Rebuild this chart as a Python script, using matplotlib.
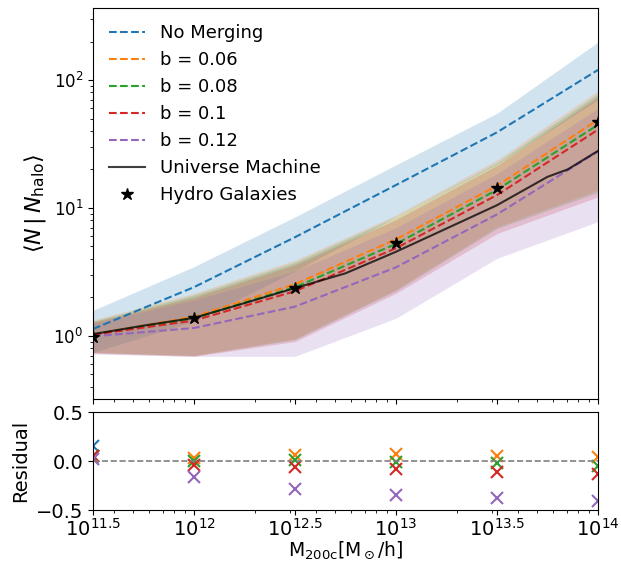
import numpy as np
import matplotlib
matplotlib.use("Agg")
import matplotlib.pyplot as plt

# ---------------- data ----------------
log_mass = [11.5, 12.0, 12.5, 13.0, 13.5, 14.0]

hydro = [0.97, 1.37, 2.38, 5.28, 14.2, 47.0]

no_merging = [1.13, 2.4, 5.9, 15.1, 39.0, 120.0]
no_merging_lo = [0.74, 1.3, 3.2, 8.5, 22.0, 70.0]
no_merging_hi = [1.58, 3.47, 8.5, 21.7, 55.0, 198.0]

b_labels = ["b = 0.06", "b = 0.08", "b = 0.1", "b = 0.12"]
b006 = [1.02, 1.41, 2.53, 5.68, 14.9, 48.9]
b008 = [1.02, 1.37, 2.40, 5.23, 13.85, 44.7]
b010 = [1.02, 1.315, 2.23, 4.84, 12.6, 40.9]
b012 = [0.99, 1.15, 1.69, 3.43, 8.9, 27.7]

b006_hi = [1.33, 2.15, 3.9, 8.8, 23.7, 82.6]
b008_hi = [1.30, 2.08, 3.75, 8.5, 22.5, 78.0]
b010_hi = [1.28, 2.0, 3.6, 8.1, 21.5, 74.0]
b012_hi = [1.25, 1.9, 3.2, 7.0, 18.5, 60.0]

b006_lo = [0.74, 0.70, 0.95, 2.30, 7.1, 13.8]
b008_lo = [0.74, 0.70, 0.93, 2.25, 6.9, 13.2]
b010_lo = [0.73, 0.69, 0.90, 2.15, 6.3, 12.2]
b012_lo = [0.72, 0.69, 0.69, 1.37, 4.03, 7.8]

um_log_mass = [11.5, 11.75, 12.0, 12.25, 12.5, 12.75, 13.0, 13.25, 13.5, 13.75, 13.85, 14.0]
um_values = [1.03, 1.2, 1.38, 1.8, 2.36, 3.08, 4.54, 6.9, 10.5, 17.5, 20.0, 27.9]

res_no_merging = [0.15, 0.75, 1.48, 1.86, 1.75, 1.55]
res_b006 = [0.05, 0.03, 0.065, 0.075, 0.05, 0.04]
res_b008 = [0.05, 0.0, 0.01, -0.01, -0.025, -0.05]
res_b010 = [0.05, -0.04, -0.065, -0.083, -0.11, -0.13]
res_b012 = [0.02, -0.16, -0.29, -0.35, -0.375, -0.41]

xtick_exps = [11.5, 12, 12.5, 13, 13.5, 14]
xtick_labels = [r"$10^{11.5}$", r"$10^{12}$", r"$10^{12.5}$", r"$10^{13}$",
                r"$10^{13.5}$", r"$10^{14}$"]

# ---------------- plot ----------------
mass = 10 ** np.array(log_mass)
um_mass = 10 ** np.array(um_log_mass)

fig = plt.figure(figsize=(6.21, 5.62), dpi=100)
ax = fig.add_axes([0.1498, 0.29, 0.8132, 0.6958])
axr = fig.add_axes([0.1498, 0.0925, 0.8132, 0.1744])

colors = ["C0", "C1", "C2", "C3", "C4"]
lines = [no_merging, b006, b008, b010, b012]
los = [no_merging_lo, b006_lo, b008_lo, b010_lo, b012_lo]
his = [no_merging_hi, b006_hi, b008_hi, b010_hi, b012_hi]
labels = ["No Merging"] + b_labels
resids = [res_no_merging, res_b006, res_b008, res_b010, res_b012]

for c, y, lo, hi, lab in zip(colors, lines, los, his, labels):
    ax.fill_between(mass, lo, hi, color=c, alpha=0.2, linewidth=0)
    ax.plot(mass, y, ls="--", color=c, lw=1.5, label=lab)

ax.plot(um_mass, um_values, color="k", lw=1.5, alpha=0.75, label="Universe Machine")
ax.plot(mass, hydro, ls="none", marker="*", color="k", markersize=9,
        label="Hydro Galaxies")

ax.set_xscale("log")
ax.set_yscale("log")
ax.set_xlim(10 ** 11.5, 10 ** 14)
ax.set_ylim(0.32, 366)
ax.set_xticks(10 ** np.array(xtick_exps))
ax.set_xticklabels([])
ax.tick_params(axis="x", which="both", labelbottom=False)
ax.tick_params(axis="y", labelsize=12)
ax.set_ylabel(r"$\langle N \,|\, N_{\rm halo}\rangle$", fontsize=16)
ax.legend(loc="upper left", frameon=False, fontsize=13)

for c, r in zip(colors, resids):
    axr.plot(mass, r, ls="none", marker="x", color=c, markersize=8, mew=1.5)
axr.axhline(0, color="grey", ls="--", lw=1.2)
axr.set_xscale("log")
axr.set_xlim(10 ** 11.5, 10 ** 14)
axr.set_ylim(-0.5, 0.5)
axr.set_xticks(10 ** np.array(xtick_exps))
axr.set_xticklabels(xtick_labels)
axr.set_yticks([-0.5, 0.0, 0.5])
axr.tick_params(axis="both", labelsize=14)
axr.tick_params(axis="x", pad=2)
axr.set_ylabel("Residual", fontsize=14)
axr.set_xlabel(r"M$_{\rm 200c}$[M$_\odot$/h]", fontsize=13.5, labelpad=0)

fig.savefig("out.png", dpi=100)
